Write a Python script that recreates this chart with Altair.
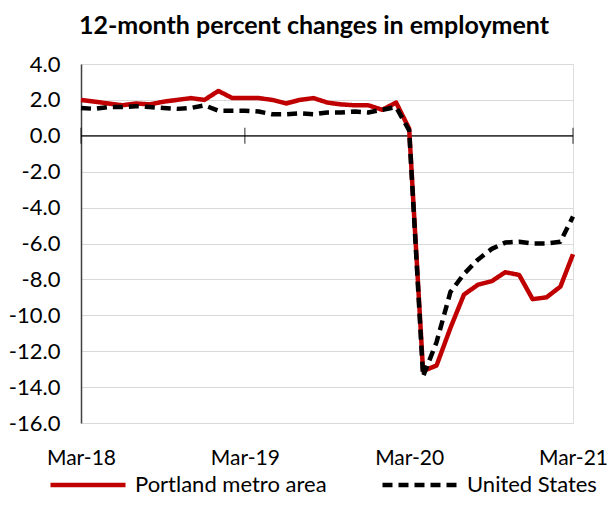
import altair as alt
import pandas as pd

months = pd.date_range("2018-03-01", "2021-03-01", freq="MS").strftime("%Y-%m-%d").tolist()

portland = [2.0, 1.9, 1.8, 1.7, 1.8, 1.75, 1.9, 2.0, 2.1, 2.0, 2.5, 2.1,
            2.1, 2.1, 2.0, 1.8, 2.0, 2.1, 1.85, 1.75, 1.7, 1.7, 1.45, 1.85,
            0.4, -13.1, -12.8, -10.7, -8.85, -8.3, -8.1, -7.6, -7.75, -9.1, -9.0, -8.4,
            -6.6]
united_states = [1.55, 1.5, 1.6, 1.6, 1.65, 1.6, 1.55, 1.5, 1.55, 1.7, 1.4, 1.4,
                 1.4, 1.35, 1.2, 1.2, 1.25, 1.2, 1.3, 1.3, 1.35, 1.3, 1.45, 1.6,
                 0.3, -13.4, -11.5, -8.7, -7.7, -6.9, -6.3, -5.95, -5.9, -6.0, -6.0, -5.9,
                 -4.5]

series_names = ["Portland metro area", "United States"]
series_colors = ["#C00000", "#000000"]
tick_labels = ["Mar-18", "Mar-19", "Mar-20", "Mar-21"]
tick_dates = ["2018-03-01", "2019-03-01", "2020-03-01", "2021-03-01"]
y_ticks = [4, 2, 0, -2, -4, -6, -8, -10, -12, -14, -16]

rows = []
for d, p, u in zip(months, portland, united_states):
    rows.append({"date": d, "series": series_names[0], "value": p})
    rows.append({"date": d, "series": series_names[1], "value": u})
df = pd.DataFrame(rows)

FONT = "Lato"

x_scale = alt.Scale(type="utc", domain=[tick_dates[0], tick_dates[-1]], nice=False)
y_scale = alt.Scale(domain=[-16, 4], nice=False, zero=False)

x_axis = alt.Axis(
    values=[alt.DateTime(year=int(t[:4]), month=3, date=1, utc=True) for t in tick_dates],
    labelExpr="utcFormat(datum.value, '%b-%y')",
    domain=False, ticks=False, grid=False, labelPadding=24, labelFontSize=21,
    labelColor="#000000", labelFont=FONT, title=None, labelFlush=False,
)
y_axis = alt.Axis(
    values=y_ticks, labelExpr="replace(format(datum.value, '.1f'), '\u2212', '-')",
    domain=True, domainColor="#404040", domainWidth=1.5,
    ticks=False, grid=True, gridColor="#d9d9d9", gridWidth=1.2, labelPadding=21,
    labelFontSize=22, labelColor="#000000", labelFont=FONT, title=None,
)

X = alt.X("date:T", scale=x_scale, axis=x_axis)
Y = alt.Y("value:Q", scale=y_scale, axis=y_axis)

zero_df = pd.DataFrame({"value": [0]})
zero_rule = alt.Chart(zero_df).mark_rule(color="#000000", strokeWidth=1.2).encode(y=Y)

tick_df = pd.DataFrame({"date": tick_dates, "value": [0] * 4})
ticks = alt.Chart(tick_df).mark_tick(color="#000000", thickness=1.2, size=16, orient="vertical").encode(
    x=X, y=Y,
)

lines = alt.Chart(df).mark_line(strokeWidth=4.5, strokeCap="butt", strokeJoin="round").encode(
    x=X, y=Y,
    color=alt.Color("series:N", scale=alt.Scale(domain=series_names, range=series_colors),
                    legend=alt.Legend(title=None, orient="none", direction="horizontal",
                                      legendX=-33, legendY=381,
                                      symbolType="stroke", symbolSize=5625,
                                      symbolStrokeWidth=4.5, labelFontSize=22,
                                      labelFont=FONT, labelColor="#000000", labelLimit=400,
                                      labelOffset=7, columnPadding=46)),
    strokeDash=alt.StrokeDash("series:N", scale=alt.Scale(domain=series_names, range=[[1, 0], [10, 6]]),
                              legend=None),
    order="date:T",
)

chart = alt.layer(zero_rule, ticks, lines).properties(
    width=492, height=359,
    autosize=alt.AutoSizeParams(type="none"),
    padding={"left": 73, "top": 56, "right": 34, "bottom": 74},
    title=alt.TitleParams("12-month percent changes in employment", fontSize=25, font=FONT,
                          fontWeight="bold", color="#000000", anchor="middle", dx=-13, offset=14),
).configure_view(stroke="#d9d9d9", strokeWidth=1.5).configure(background="#ffffff")

chart.save("out.html", embed_options={"renderer": "svg", "actions": False})
